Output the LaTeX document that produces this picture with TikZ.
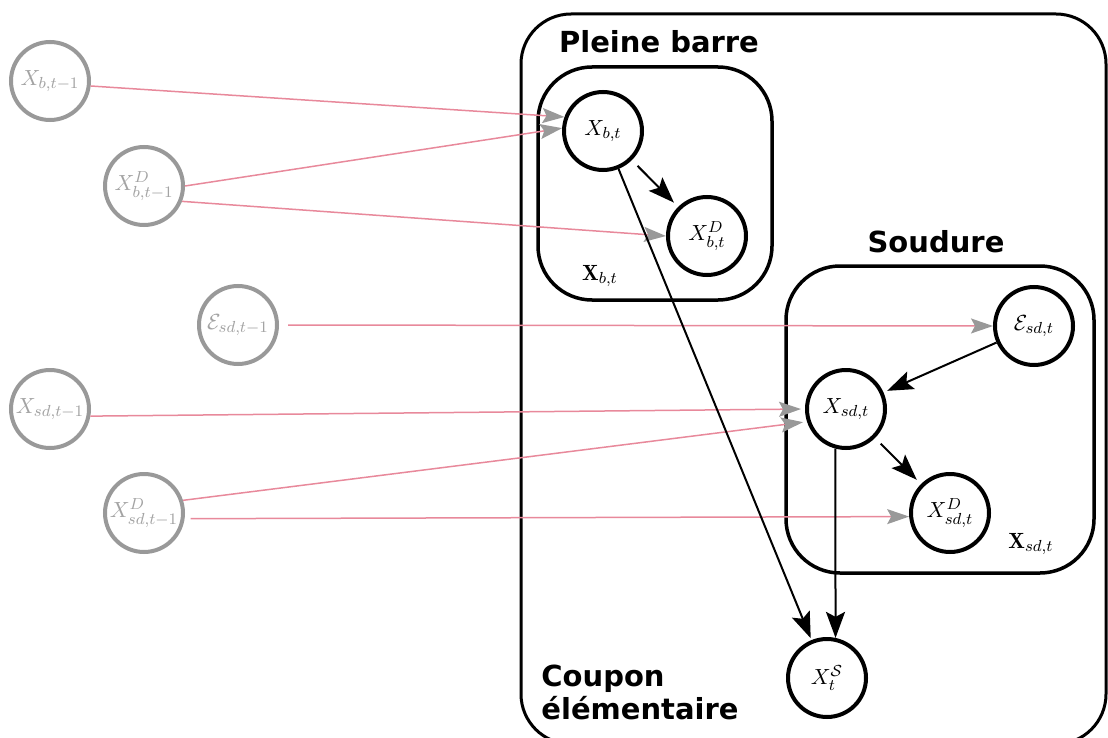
\documentclass[tikz,border=0pt]{standalone}
\usepackage{amsmath}
\usepackage{amssymb}
\usepackage{fontspec}
\usepackage{xcolor}
\usepackage{tikz}
\usetikzlibrary{arrows.meta}
\newfontfamily\titlefont{DejaVu Sans}
\definecolor{ink}{HTML}{000000}
\definecolor{faded}{HTML}{999999}
\definecolor{fadedtext}{HTML}{A3A3A3}
\definecolor{transpink}{HTML}{E8899B}

\begin{document}
\begin{tikzpicture}[x=0.5pt, y=-0.5pt, font=\fontsize{11}{13}\selectfont,
    curnode/.style={circle, draw=ink, fill=white, line width=2pt, minimum size=39pt, inner sep=0pt},
    prevnode/.style={curnode, draw=faded, text=fadedtext},
    platebox/.style={draw=ink, line width=1.75pt, rounded corners=27pt},
    titletext/.style={font=\titlefont\bfseries\fontsize{14.5}{16.5}\selectfont, inner sep=0pt},
    deparrow/.style={draw=ink, line width=1pt, -{Stealth[length=13pt, width=9.5pt, inset=2.5pt]}},
    transarrow/.style={draw=transpink, line width=0.75pt, -{Stealth[length=11pt, width=7.5pt, inset=2pt, color=faded]}}]
    \useasboundingbox (0,0) rectangle (1108,738);
    % The elementary coupon and its two plates.
    \draw[ink, line width=1.5pt, rounded corners=25pt] (521,14) rectangle (1106,744);
    \draw[platebox] (538,67) rectangle (772,300);
    \draw[platebox] (786,266) rectangle (1094,573);
    \node[titletext, anchor=base] (pbtitle) at (659,53) {Pleine barre};
    \node[titletext, anchor=base] (sdtitle) at (936,252) {Soudure};
    \node[titletext, anchor=north west, align=left] (cetitle) at (541,665) {Coupon\\élémentaire};
    \node (pblabel) at (600,276) {$\mathbf{X}_{b,t}$};
    \node (sdlabel) at (1031,544) {$\mathbf{X}_{sd,t}$};
    % Variables at time t-1.
    \foreach \nm/\x/\y/\lbl in {xbp/50/81/{X_{b,t-1}}, xbdp/144/186/{X^D_{b,t-1}},
        esdp/238/325/{\mathcal{E}_{sd,t-1}}, xsdp/50/409/{X_{sd,t-1}}, xsddp/144/513/{X^D_{sd,t-1}}} {
      \node[prevnode] (\nm) at (\x,\y) {$\lbl$};
    }
    % Variables at time t.
    \foreach \nm/\x/\y/\lbl in {xb/603/131/{X_{b,t}}, xbd/707/236/{X^D_{b,t}},
        esd/1034/326/{\mathcal{E}_{sd,t}}, xsd/846/409/{X_{sd,t}}, xsdd/950/513/{X^D_{sd,t}},
        xst/827/678/{X^{\mathcal{S}}_t}} {
      \node[curnode] (\nm) at (\x,\y) {$\lbl$};
    }
    % Transitions from t-1 to t.
    \draw[transarrow] (xbp.-7) -- (xb.160);
    \draw[transarrow] (xbdp.east) -- (xb.176);
    \draw[transarrow] (xbdp.-22) -- (xbd.west);
    \draw[transarrow, shorten <=4.5pt] (esdp.east) -- (esd.west);
    \draw[transarrow, shorten >=2pt] (xsdp.-10) -- (xsd.west);
    \draw[transarrow, shorten >=2pt] (xsddp.18) -- (xsd.198);
    \draw[transarrow, shorten <=3pt] (xsddp.-8) -- (xsdd.185);
    % Dependencies within t.
    \draw[deparrow, shorten <=4pt, shorten >=3pt] (xb) -- (xbd);
    \draw[deparrow, shorten >=1pt] (xb) -- (xst);
    \draw[deparrow, shorten >=2pt] (esd) -- (xsd);
    \draw[deparrow, shorten <=4pt, shorten >=3pt] (xsd) -- (xsdd);
    \draw[deparrow] (xsd.-105) -- (xst.78);
\end{tikzpicture}
\end{document}
